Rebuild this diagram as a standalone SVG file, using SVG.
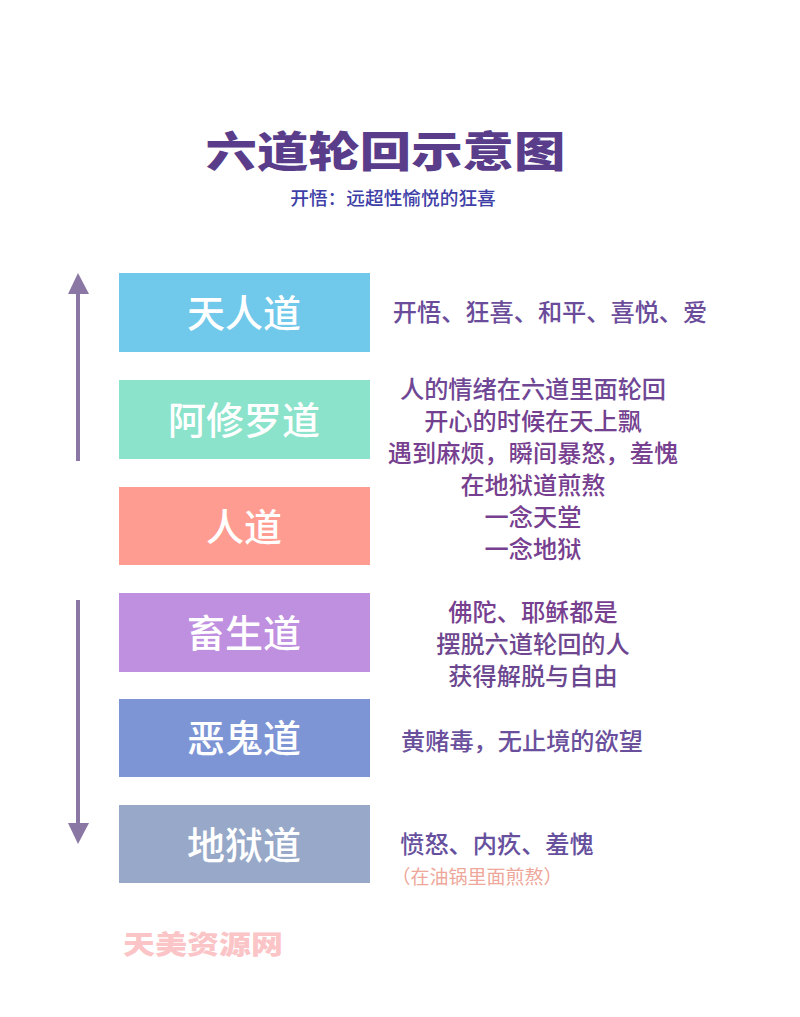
<svg xmlns="http://www.w3.org/2000/svg" width="800" height="1017" viewBox="0 0 800 1017">
<style>
text{font-family:"Noto Sans CJK SC","Noto Sans",sans-serif;text-anchor:middle}
.box{font-size:38px;font-weight:500;fill:#fff}
.d{font-size:24.200px;font-weight:500}
.a{fill:#8a77a3}
</style>
<rect width="800" height="1017" fill="#fff"/>
<g id="title">
<text transform="translate(385.500 167) scale(1 .82)" font-size="51.400" font-weight="900" fill="#5a3d8a">六道轮回示意图</text>
<text x="393" y="205" font-size="18.700" font-weight="500" fill="#3f3fa8">开悟：远超性愉悦的狂喜</text>
</g>
<g id="connectors">
<rect class="a" x="76" y="292" width="4" height="169"/>
<polygon class="a" points="78,273 68,294 89,294"/>
<rect class="a" x="76" y="600" width="4" height="225"/>
<polygon class="a" points="78,844 68,823 89,823"/>
</g>
<g id="node-tianren"><rect x="119" y="273" width="251" height="79" fill="#70c8ea"/><text class="box" x="244" y="327">天人道</text></g>
<g id="node-axiuluo"><rect x="119" y="380" width="251" height="79" fill="#8be3cb"/><text class="box" x="244" y="434">阿修罗道</text></g>
<g id="node-ren"><rect x="119" y="487" width="251" height="78" fill="#fe9c92"/><text class="box" x="244" y="541">人道</text></g>
<g id="node-chusheng"><rect x="119" y="593" width="251" height="79" fill="#bf8fe0"/><text class="box" x="244" y="647">畜生道</text></g>
<g id="node-egui"><rect x="119" y="699" width="251" height="78" fill="#7d95d5"/><text class="box" x="244" y="752">恶鬼道</text></g>
<g id="node-diyu"><rect x="119" y="805" width="251" height="78" fill="#97a8c8"/><text class="box" x="244" y="859">地狱道</text></g>
<g id="descriptions">
<text class="d" x="550" y="321" fill="#6b4c9a">开悟、狂喜、和平、喜悦、爱</text>
<text class="d" x="533" y="398" fill="#6f4795">人的情绪在六道里面轮回</text>
<text class="d" x="533" y="430" fill="#733f8f">开心的时候在天上飘</text>
<text class="d" x="533" y="462" fill="#773f8f">遇到麻烦，瞬间暴怒，羞愧</text>
<text class="d" x="533" y="494" fill="#773f8f">在地狱道煎熬</text>
<text class="d" x="533" y="526" fill="#773f8f">一念天堂</text>
<text class="d" x="533" y="558" fill="#773f8f">一念地狱</text>
<text class="d" x="533" y="621" fill="#773f8f">佛陀、耶稣都是</text>
<text class="d" x="533" y="653" fill="#6f4790">摆脱六道轮回的人</text>
<text class="d" x="533" y="685" fill="#6b4790">获得解脱与自由</text>
<text class="d" x="522" y="750" fill="#6a4f9c">黄赌毒，无止境的欲望</text>
<text class="d" x="497" y="853" fill="#66509e">愤怒、内疚、羞愧</text>
<text x="477" y="884" font-size="19" fill="#eea79a">（在油锅里面煎熬）</text>
</g>
<text transform="translate(203 954) scale(1 .82)" font-size="32" font-weight="900" fill="#fbc4c6">天美资源网</text>
</svg>
